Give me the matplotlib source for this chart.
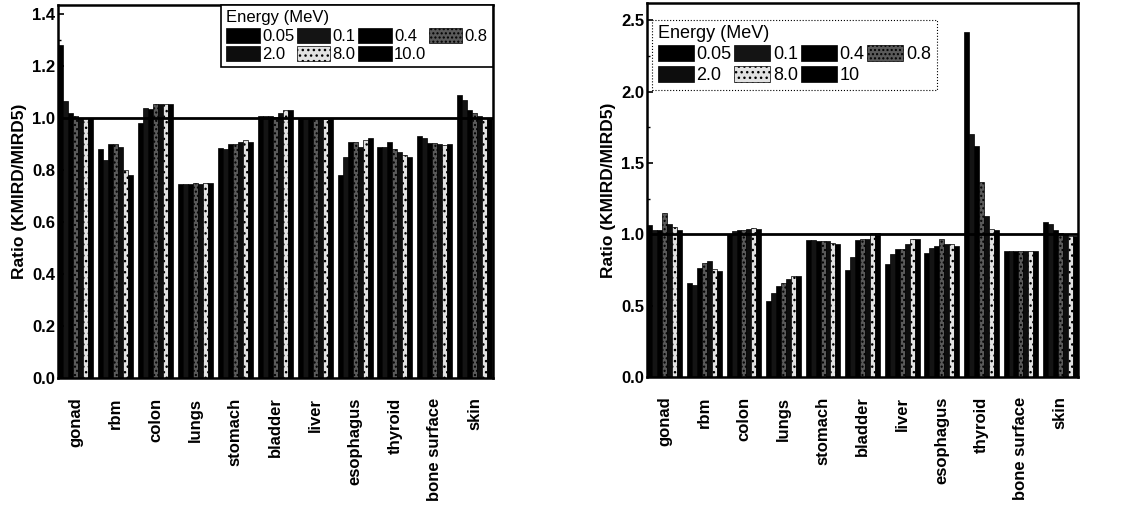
import numpy as np
import matplotlib; matplotlib.use("Agg")
import matplotlib.pyplot as plt
from matplotlib.ticker import MultipleLocator

plt.rcParams['font.family'] = ['Liberation Sans Narrow', 'Liberation Sans', 'DejaVu Sans']

organs_l = ["gonad", "rbm", "colon", "lungs", "stomach", "bladder", "liver",
            "esophagus", "thyroid", "bone surface", "skin"]
organs_r = organs_l
energies_l = ["0.05", "0.1", "0.4", "0.8", "2.0", "8.0", "10.0"]
energies_r = ["0.05", "0.1", "0.4", "0.8", "2.0", "8.0", "10"]

# ratio KMIRD/MIRD5, fila = organo, columna = energia
ratio_l = [
    [1.28, 1.065, 1.02, 1.01, 1.00, 1.00, 1.00],   # gonad
    [0.88, 0.84, 0.90, 0.90, 0.89, 0.80, 0.78],    # rbm
    [0.98, 1.04, 1.035, 1.055, 1.055, 1.055, 1.055],  # colon
    [0.745, 0.745, 0.745, 0.75, 0.745, 0.75, 0.75],   # lungs
    [0.887, 0.88, 0.90, 0.90, 0.91, 0.915, 0.91],  # stomach
    [1.01, 1.01, 1.01, 1.005, 1.02, 1.03, 1.03],   # bladder
    [1.00, 1.00, 1.00, 0.995, 0.995, 0.995, 0.995],  # liver
    [0.78, 0.85, 0.91, 0.91, 0.89, 0.915, 0.925],  # esophagus
    [0.89, 0.89, 0.91, 0.88, 0.87, 0.86, 0.85],    # thyroid
    [0.93, 0.925, 0.905, 0.905, 0.90, 0.895, 0.90],  # bone surface
    [1.09, 1.07, 1.03, 1.02, 1.01, 1.00, 1.00],    # skin
]
ratio_r = [
    [1.065, 1.03, 1.03, 1.15, 1.075, 1.05, 1.03],  # gonad
    [0.656, 0.646, 0.767, 0.80, 0.814, 0.756, 0.74],  # rbm
    [1.00, 1.02, 1.03, 1.03, 1.04, 1.045, 1.04],   # colon
    [0.53, 0.59, 0.64, 0.66, 0.69, 0.71, 0.71],    # lungs
    [0.963, 0.96, 0.955, 0.955, 0.955, 0.94, 0.935],  # stomach
    [0.75, 0.84, 0.96, 0.97, 0.97, 1.01, 1.01],    # bladder
    [0.795, 0.86, 0.895, 0.90, 0.93, 0.965, 0.965],  # liver
    [0.87, 0.905, 0.92, 0.97, 0.93, 0.93, 0.92],   # esophagus
    [2.42, 1.70, 1.62, 1.365, 1.13, 1.035, 1.03],  # thyroid
    [0.885, 0.88, 0.88, 0.88, 0.88, 0.88, 0.88],   # bone surface
    [1.09, 1.07, 1.03, 1.01, 1.00, 0.99, 0.99],    # skin
]

colors = ["black", "#141414", "black", "#5a5a5a", "#0d0d0d", "#e2e2e2", "black"]
hatches = [None, None, None, "....", None, "...", None]

fig = plt.figure(figsize=(11.26, 5.11), dpi=100)
axL = fig.add_axes([0.0515, 0.260, 0.386, 0.730])
axR = fig.add_axes([0.5746, 0.262, 0.383, 0.732])

w = 1/8
# orden para que la leyenda (que llena por columnas) se lea por filas
lg_order = [0, 4, 1, 5, 2, 6, 3]
for ax, organs, data, labs, ymax, ystep, lgpos, lgstyle, lgfs in [
        (axL, organs_l, ratio_l, energies_l, 1.435, 0.2, (1.0, 1.0), "-", 12),
        (axR, organs_r, ratio_r, energies_r, 2.62, 0.5, (0.012, 0.955), ":", 13)]:
    D = np.array(data)
    x = np.arange(len(organs))
    hs = []
    for j in range(D.shape[1]):
        hs.append(ax.bar(x + (j - 3) * w, D[:, j], width=w, color=colors[j], hatch=hatches[j],
                         edgecolor="black", linewidth=0.5, label=labs[j]))
    ax.axhline(1.0, color="black", lw=2, zorder=5)
    ax.set_xlim(-0.45, len(organs) - 0.55)
    ax.set_ylim(0, ymax)
    ax.set_yticks(np.arange(0, ymax, ystep))
    ax.set_yticklabels([f"{v:.1f}" for v in np.arange(0, ymax, ystep)],
                       fontsize=12, fontweight="bold")
    ax.yaxis.set_minor_locator(MultipleLocator(ystep / 2))
    ax.set_xticks(x)
    ax.set_xticklabels(organs, rotation=90, fontsize=12, fontweight="bold")
    ax.tick_params(axis="x", length=0, pad=14)
    ax.tick_params(axis="y", which="major", direction="in", length=4, width=1.2, pad=2)
    ax.tick_params(axis="y", which="minor", direction="in", length=2, width=1.0)
    ax.set_ylabel("Ratio (KMIRD/MIRD5)", fontsize=12.5, fontweight="bold", labelpad=4)
    for s in ax.spines.values():
        s.set_linewidth(1.8)
    loc = "upper right" if lgstyle == "-" else "upper left"
    lg = ax.legend([hs[k] for k in lg_order], [labs[k] for k in lg_order],
                   title="Energy (MeV)", ncol=4, loc=loc, bbox_to_anchor=lgpos,
                   fontsize=lgfs, title_fontsize=lgfs, frameon=True, fancybox=False,
                   handlelength=2.0, handleheight=1.0, handletextpad=0.15,
                   columnspacing=0.15, labelspacing=0.15, borderpad=0.3,
                   borderaxespad=0.0)
    lg._legend_box.align = "left"
    fr = lg.get_frame()
    fr.set_edgecolor("black"); fr.set_linewidth(1.2 if lgstyle == "-" else 0.8)
    fr.set_linestyle(lgstyle); fr.set_alpha(1)

fig.savefig("out.png", dpi=100)
